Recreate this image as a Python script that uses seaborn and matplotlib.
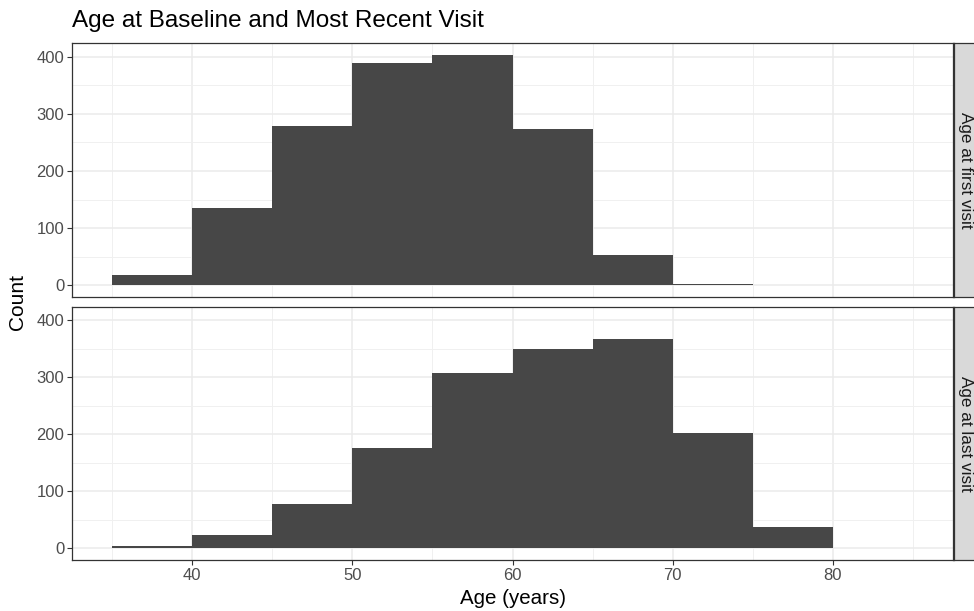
import numpy as np
import pandas as pd
import seaborn as sns
import matplotlib.pyplot as plt
from matplotlib.ticker import MultipleLocator

# Bin edges (5-year bins) and counts
bin_edges = [35, 40, 45, 50, 55, 60, 65, 70, 75, 80, 85]
bin_mids = [37.5, 42.5, 47.5, 52.5, 57.5, 62.5, 67.5, 72.5, 77.5, 82.5]
first_visit = [18, 135, 278, 388, 403, 274, 54, 2, 0, 0]
last_visit = [4, 24, 78, 176, 308, 350, 368, 203, 37, 1]
panel_labels = ["Age at first visit", "Age at last visit"]

data = pd.concat([
    pd.DataFrame({"age": bin_mids, "count": first_visit, "panel": panel_labels[0]}),
    pd.DataFrame({"age": bin_mids, "count": last_visit, "panel": panel_labels[1]}),
])

sns.set_style("white")
plt.rcParams['font.family'] = ['Liberation Sans', 'DejaVu Sans']

fig = plt.figure(figsize=(9.74, 6.11), dpi=100)
W, H = 974, 611
left, right = 72, 953
panels = [(43, 297), (307, 560)]

axes = []
for (top, bottom), label in zip(panels, panel_labels):
    ax = fig.add_axes([left / W, 1 - bottom / H, (right - left) / W, (bottom - top) / H])
    sub = data[data["panel"] == label]
    sns.histplot(data=sub, x="age", weights="count", bins=bin_edges, ax=ax,
                 color="#474747", alpha=1, linewidth=0, edgecolor="none")
    ax.set_xlim(32.5, 87.5)
    ax.set_ylim(-20.2, 423.6)
    ax.xaxis.set_major_locator(MultipleLocator(10))
    ax.xaxis.set_minor_locator(MultipleLocator(5))
    ax.yaxis.set_major_locator(MultipleLocator(100))
    ax.yaxis.set_minor_locator(MultipleLocator(50))
    ax.grid(which="major", color="#EBEBEB", linewidth=1.1)
    ax.grid(which="minor", color="#F0F0F0", linewidth=0.7)
    ax.set_axisbelow(True)
    for s in ax.spines.values():
        s.set_color("#333333")
        s.set_linewidth(0.9)
    ax.tick_params(axis="both", which="major", length=3.5, width=0.8, color="#333333",
                   labelsize=12, labelcolor="#4D4D4D", pad=2, bottom=True, left=True)
    ax.tick_params(which="minor", length=0)
    ax.set_xlabel("")
    ax.set_ylabel("")

    # facet strip on the right
    sax = fig.add_axes([(right + 1) / W, 1 - bottom / H, 30 / W, (bottom - top) / H])
    sax.set_facecolor("#D9D9D9")
    sax.set_xticks([])
    sax.set_yticks([])
    for s in sax.spines.values():
        s.set_color("#333333")
        s.set_linewidth(0.9)
    sax.text(12 / 30, 0.5, label, rotation=-90, ha="center", va="center",
             fontsize=12.3, color="#1A1A1A", transform=sax.transAxes)
    axes.append(ax)

axes[0].tick_params(axis="x", labelbottom=False, bottom=False)

fig.text(left / W, 1 - 27 / H, "Age at Baseline and Most Recent Visit",
         fontsize=17.5, ha="left", va="baseline", color="black")
fig.text(18 / W, 1 - 302 / H, "Count", rotation=90, fontsize=15,
         ha="center", va="center", color="black")
fig.text((left + right) / 2 / W, 1 - 598 / H, "Age (years)", fontsize=14.8,
         ha="center", va="center", color="black")

fig.savefig("out.png", dpi=100)
